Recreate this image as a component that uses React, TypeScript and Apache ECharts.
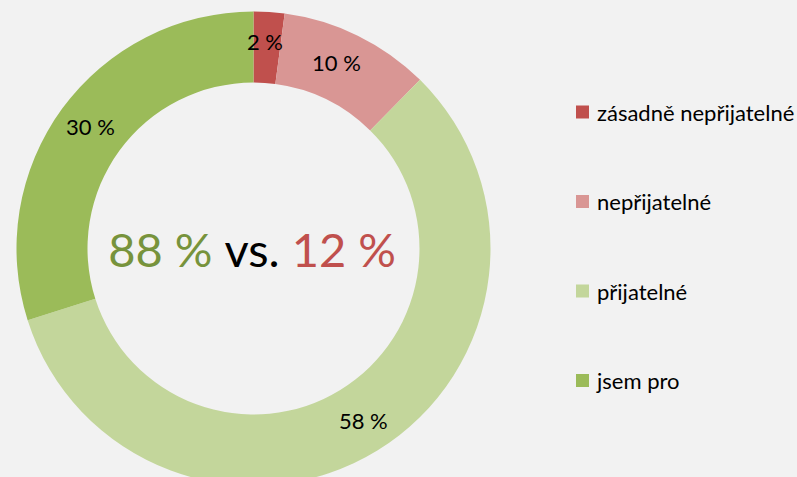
import React, { useEffect, useRef } from "react";
import * as echarts from "echarts";

const categories = ["zásadně nepřijatelné", "nepřijatelné", "přijatelné", "jsem pro"];
const values = [2.1, 10.3, 57.7, 29.9];
const colors = ["#C0504D", "#D99694", "#C3D69B", "#9BBB59"];
const labelOffsets: [number, number][] = [[-2, -3], [-7, -2], [3, -2], [2, -1]];
const centerParts = ["88 %", "vs.", "12 %"];

const FONT = "Lato, 'Open Sans', sans-serif";

export default function App() {
  const ref = useRef<HTMLDivElement>(null);
  useEffect(() => {
    document.body.style.margin = "0";
    const chart = echarts.init(ref.current!, undefined, { renderer: "svg" });
    chart.setOption({
      animation: false,
      backgroundColor: "#F2F2F2",
      legend: {
        orient: "vertical",
        left: 571,
        top: 95,
        padding: 5,
        itemWidth: 13,
        itemHeight: 13,
        itemGap: 65.5,
        icon: "rect",
        selectedMode: false,
        textStyle: { fontFamily: FONT, fontSize: 22, color: "#000", lineHeight: 24, padding: [0, 0, 0, 3] },
        data: categories,
      },
      graphic: [
        {
          type: "text",
          x: 252,
          y: 249,
          style: {
            text: `{g|${centerParts[0]} }{k|${centerParts[1]} }{r|${centerParts[2]}}`,
            align: "center",
            verticalAlign: "middle",
            rich: {
              g: { fontFamily: FONT, fontSize: 47, fill: "#77933C" },
              k: { fontFamily: FONT, fontSize: 47, fill: "#000000" },
              r: { fontFamily: FONT, fontSize: 47, fill: "#C0504D" },
            },
          },
        },
      ],
      series: [
        {
          type: "pie",
          center: [253.5, 248.5],
          radius: [166, 237],
          startAngle: 90,
          clockwise: true,
          avoidLabelOverlap: false,
          label: {
            show: true,
            position: "inside",
            fontFamily: FONT,
            fontSize: 22,
            color: "#000",
            formatter: (p: any) => `${Math.round(p.value)} %`,
          },
          labelLine: { show: false },
          emphasis: { disabled: true },
          itemStyle: { borderWidth: 0 },
          data: categories.map((name, i) => ({
            name,
            value: values[i],
            itemStyle: { color: colors[i] },
            label: { offset: labelOffsets[i] },
          })),
        },
      ],
    });
    return () => chart.dispose();
  }, []);
  return <div ref={ref} style={{ width: 797, height: 477 }} />;
}
